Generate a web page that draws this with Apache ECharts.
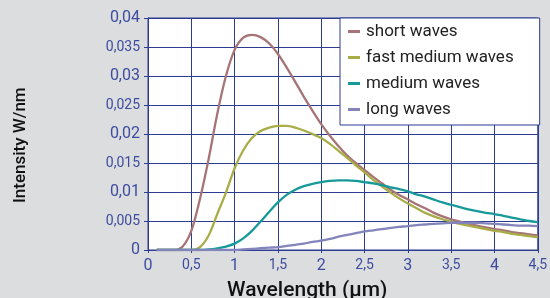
<!DOCTYPE html>
<html>
<head>
<meta charset="utf-8">
<script src="https://cdn.jsdelivr.net/npm/echarts@6/dist/echarts.min.js"></script>
<style>
  html, body { margin: 0; padding: 0; background: #dcdddf; }
  #chart { width: 550px; height: 298px; }
</style>
</head>
<body>
<div id="chart"></div>
<script>
// wavelength in µm
const xs = [0.1, 0.2, 0.3, 0.4, 0.5, 0.6, 0.7, 0.8, 0.9, 1.0,
  1.1, 1.2, 1.3, 1.4, 1.5, 1.6, 1.7, 1.8, 1.9, 2.0,
  2.1, 2.2, 2.3, 2.4, 2.5, 2.6, 2.7, 2.8, 2.9, 3.0,
  3.1, 3.2, 3.3, 3.4, 3.5, 3.6, 3.7, 3.8, 3.9, 4.0,
  4.1, 4.2, 4.3, 4.4, 4.5]

// intensity W/nm
const shortWaves = [0, 0, 0, 0.0006, 0.0033, 0.0088, 0.0157, 0.0235, 0.0300, 0.0345,
  0.0366, 0.0371, 0.0367, 0.0356, 0.0338, 0.0315, 0.0290, 0.0264, 0.0240, 0.0217,
  0.0197, 0.0179, 0.0163, 0.0150, 0.0138, 0.0126, 0.0115, 0.0104, 0.0095, 0.0087,
  0.0079, 0.0072, 0.0064, 0.0058, 0.0053, 0.0049, 0.0045, 0.0042, 0.0039, 0.0036,
  0.0034, 0.0031, 0.0029, 0.0027, 0.0025]
const fastMediumWaves = [0, 0, 0, 0, 0, 0.0005, 0.0025, 0.0062, 0.0099, 0.0141,
  0.0172, 0.0193, 0.0205, 0.0211, 0.0214, 0.0214, 0.0211, 0.0206, 0.0200, 0.0193,
  0.0183, 0.0171, 0.0159, 0.0146, 0.0134, 0.0121, 0.0110, 0.0099, 0.0089, 0.0080,
  0.0072, 0.0064, 0.0058, 0.0053, 0.0049, 0.0045, 0.0042, 0.0039, 0.0036, 0.0033,
  0.0031, 0.0028, 0.0026, 0.0024, 0.0022]
const mediumWaves = [0, 0, 0, 0, 0, 0, 0.0001, 0.0003, 0.0006, 0.0011,
  0.0020, 0.0033, 0.0049, 0.0066, 0.0082, 0.0095, 0.0104, 0.0110, 0.0114, 0.0117,
  0.0119, 0.0120, 0.0120, 0.0119, 0.0117, 0.0115, 0.0112, 0.0108, 0.0105, 0.0101,
  0.0096, 0.0092, 0.0087, 0.0082, 0.0078, 0.0074, 0.0070, 0.0067, 0.0064, 0.0062,
  0.0059, 0.0056, 0.0053, 0.0050, 0.0048]
const longWaves = [0, 0, 0, 0, 0, 0, 0, 0, 0, 0,
  0.0001, 0.0002, 0.0003, 0.0004, 0.0005, 0.0007, 0.0009, 0.0011, 0.0014, 0.0016,
  0.0019, 0.0023, 0.0026, 0.0029, 0.0032, 0.0034, 0.0036, 0.0038, 0.0040, 0.0041,
  0.0043, 0.0044, 0.0045, 0.0046, 0.0047, 0.0047, 0.0047, 0.0047, 0.0046, 0.0045,
  0.0044, 0.0043, 0.0042, 0.0042, 0.0041]

const names = ['short waves', 'fast medium waves', 'medium waves', 'long waves']
const colors = ['#a67476', '#a8ad48', '#17999a', '#8284bb']

const blue = '#2d3b92'
const labelBlue = '#3d4c9f'
const font = 'Roboto'

function pairs(ys) {
  return xs.map((x, i) => [x, ys[i]])
}

// decimal comma, whole steps a bit bigger
function fmt(v, step) {
  const s = String(Math.round(v * 1000) / 1000).replace('.', ',')
  const big = Math.abs(v / step - Math.round(v / step)) < 1e-6
  return big ? '{a|' + s + '}' : '{b|' + s + '}'
}

const chart = echarts.init(document.getElementById('chart'))

const option = {
  backgroundColor: '#dcdddf',
  animation: false,
  textStyle: { fontFamily: font },
  grid: {
    left: 148,
    right: 12,
    top: 18,
    bottom: 48,
    show: true,
    backgroundColor: '#fff',
    borderColor: blue,
    borderWidth: 1
  },
  legend: {
    data: names,
    orient: 'vertical',
    left: 340,
    top: 18,
    backgroundColor: '#fff',
    borderColor: blue,
    borderWidth: 1,
    borderRadius: 0,
    padding: [5, 26, 7, 8],
    itemGap: 9,
    itemWidth: 12,
    itemHeight: 3,
    icon: 'rect',
    textStyle: { fontFamily: font, fontSize: 17, lineHeight: 17, color: '#222', padding: [0, 0, 0, 1] }
  },
  xAxis: {
    type: 'value',
    min: 0,
    max: 4.5,
    interval: 0.5,
    axisLine: { show: true, lineStyle: { color: blue, width: 1 } },
    axisTick: { show: true, length: 3, lineStyle: { color: blue } },
    splitLine: { show: true, lineStyle: { color: blue, width: 1 } },
    axisLabel: {
      margin: 8,
      formatter: v => fmt(v, 1),
      rich: {
        a: { fontFamily: font, fontSize: 16, color: labelBlue },
        b: { fontFamily: font, fontSize: 14, color: labelBlue }
      }
    }
  },
  yAxis: {
    type: 'value',
    min: 0,
    max: 0.04,
    interval: 0.005,
    axisLine: { show: true, lineStyle: { color: blue, width: 1 } },
    axisTick: { show: true, length: 4, lineStyle: { color: blue } },
    splitLine: { show: true, lineStyle: { color: blue, width: 1 } },
    axisLabel: {
      margin: 8,
      formatter: v => fmt(v, 0.01),
      rich: {
        a: { fontFamily: font, fontSize: 16, color: labelBlue },
        b: { fontFamily: font, fontSize: 14, color: labelBlue }
      }
    }
  },
  graphic: [
    { // axis titles
      type: 'text',
      left: 227,
      top: 280,
      style: { text: 'Wavelength (µm)', fontFamily: font, fontSize: 21, fontWeight: 500, fill: '#111' }
    },
    {
      type: 'text',
      x: 12,
      y: 203,
      rotation: Math.PI / 2,
      style: { text: 'Intensity W/nm', fontFamily: font, fontSize: 17, fontWeight: 500, fill: '#111' }
    }
  ],
  series: [shortWaves, fastMediumWaves, mediumWaves, longWaves].map((ys, i) => ({
    name: names[i],
    type: 'line',
    smooth: 0.3,
    symbol: 'none',
    data: pairs(ys),
    lineStyle: { color: colors[i], width: 2.3 },
    itemStyle: { color: colors[i] }
  }))
}

chart.setOption(option)
</script>
</body>
</html>
